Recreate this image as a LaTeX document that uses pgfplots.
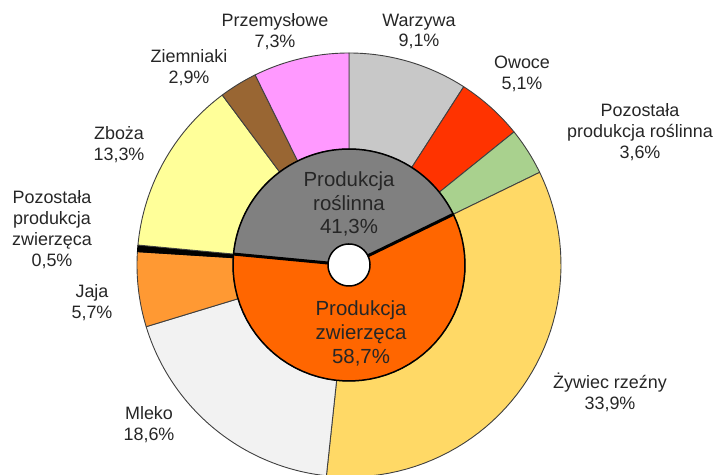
\documentclass[border=0pt]{standalone}
\usepackage{fontspec}
\setmainfont{Liberation Sans}
\usepackage{xcolor}
\usepackage{pgfplots}
\pgfplotsset{compat=1.18}

\definecolor{txt}{HTML}{262626}
\definecolor{rim}{HTML}{404040}
\definecolor{warzywa}{HTML}{C8C8C8}
\definecolor{owoce}{HTML}{FF3300}
\definecolor{pozr}{HTML}{A9D18E}
\definecolor{zywiec}{HTML}{FFD966}
\definecolor{mleko}{HTML}{F2F2F2}
\definecolor{jaja}{HTML}{FF9933}
\definecolor{pozz}{HTML}{000000}
\definecolor{zboza}{HTML}{FFFF99}
\definecolor{ziemniaki}{HTML}{996633}
\definecolor{przem}{HTML}{FF99FF}
\definecolor{roslinna}{HTML}{808080}
\definecolor{zwierzeca}{HTML}{FF6600}

% one ring segment: share (%), inner radius, outer radius, fill, border colour, border width
% segments follow one another clockwise from 12 o'clock; \cum holds where the next one starts
\def\cum{0}
\newcommand\ring[6]{%
  \pgfmathsetmacro\aA{90-3.6*\cum}%
  \pgfmathsetmacro\aB{90-3.6*(\cum+#1)}%
  \pgfmathsetmacro\newcum{\cum+#1}\xdef\cum{\newcum}%
  \edef\doslice{\noexpand\addplot[fill=#4, draw=#5, line width=#6, line join=round,
      samples at={0,2,...,100,200,202,...,300}, variable=\noexpand\t]
    ({(\noexpand\t<101 ? #3 : #2)*cos(\noexpand\t<101 ? (\aA)+((\aB)-(\aA))*\noexpand\t/100 : (\aB)+((\aA)-(\aB))*(\noexpand\t-200)/100)},
     {(\noexpand\t<101 ? #3 : #2)*sin(\noexpand\t<101 ? (\aA)+((\aB)-(\aA))*\noexpand\t/100 : (\aB)+((\aA)-(\aB))*(\noexpand\t-200)/100)}) -- cycle;}%
  \doslice}

\tikzset{
  lab/.style={align=center, text=txt, font=\fontsize{18}{21}\selectfont, inner sep=0pt},
  big/.style={align=center, text=txt, font=\fontsize{20.5}{24}\selectfont, inner sep=0pt},
}

\begin{document}
\begin{tikzpicture}
\begin{axis}[x=1bp, y=1bp, xmin=-349, xmax=371, ymin=-210, ymax=265,
  axis line style={draw=none}, ticks=none]
% outer ring
\gdef\cum{0}
\ring{9.1}{116}{212}{warzywa}{rim}{0.9bp}
\ring{5.1}{116}{212}{owoce}{rim}{0.9bp}
\ring{3.6}{116}{212}{pozr}{rim}{0.9bp}
\ring{33.9}{116}{212}{zywiec}{rim}{0.9bp}
\ring{18.6}{116}{212}{mleko}{rim}{0.9bp}
\ring{5.7}{116}{212}{jaja}{rim}{0.9bp}
\ring{0.5}{116}{212}{pozz}{black}{0.9bp}
\ring{13.3}{116}{212}{zboza}{rim}{0.9bp}
\ring{2.9}{116}{212}{ziemniaki}{rim}{0.9bp}
\ring{7.3}{116}{212}{przem}{rim}{0.9bp}
% inner ring
\gdef\cum{17.8}
\ring{58.7}{21}{116}{zwierzeca}{black}{1.5bp}
\ring{41.3}{21}{116}{roslinna}{black}{1.5bp}
\addplot[black, line width=3bp, domain=21:116, samples=2] ({x*cos(25.92)},{x*sin(25.92)});
\addplot[black, line width=3bp, domain=21:116, samples=2] ({x*cos(-185.4)},{x*sin(-185.4)});

\node[lab] at (axis cs:-74,233.5) {Przemysłowe\\7,3\%};
\node[lab] at (axis cs:70,233.5) {Warzywa\\9,1\%};
\node[lab] at (axis cs:-160,197.5) {Ziemniaki\\2,9\%};
\node[lab] at (axis cs:173,191) {Owoce\\5,1\%};
\node[lab] at (axis cs:291,133) {Pozostała\\produkcja roślinna\\3,6\%};
\node[lab] at (axis cs:-230,120) {Zboża\\13,3\%};
\node[lab] at (axis cs:-297,35) {Pozostała\\produkcja\\zwierzęca\\0,5\%};
\node[lab] at (axis cs:-257,-38) {Jaja\\5,7\%};
\node[lab] at (axis cs:-200,-160) {Mleko\\18,6\%};
\node[lab] at (axis cs:261,-127) {Żywiec rzeźny\\33,9\%};
\node[big] at (axis cs:0,61) {Produkcja\\roślinna\\41,3\%};
\node[big] at (axis cs:12,-68.5) {Produkcja\\zwierzęca\\58,7\%};
\end{axis}
\end{tikzpicture}
\end{document}
